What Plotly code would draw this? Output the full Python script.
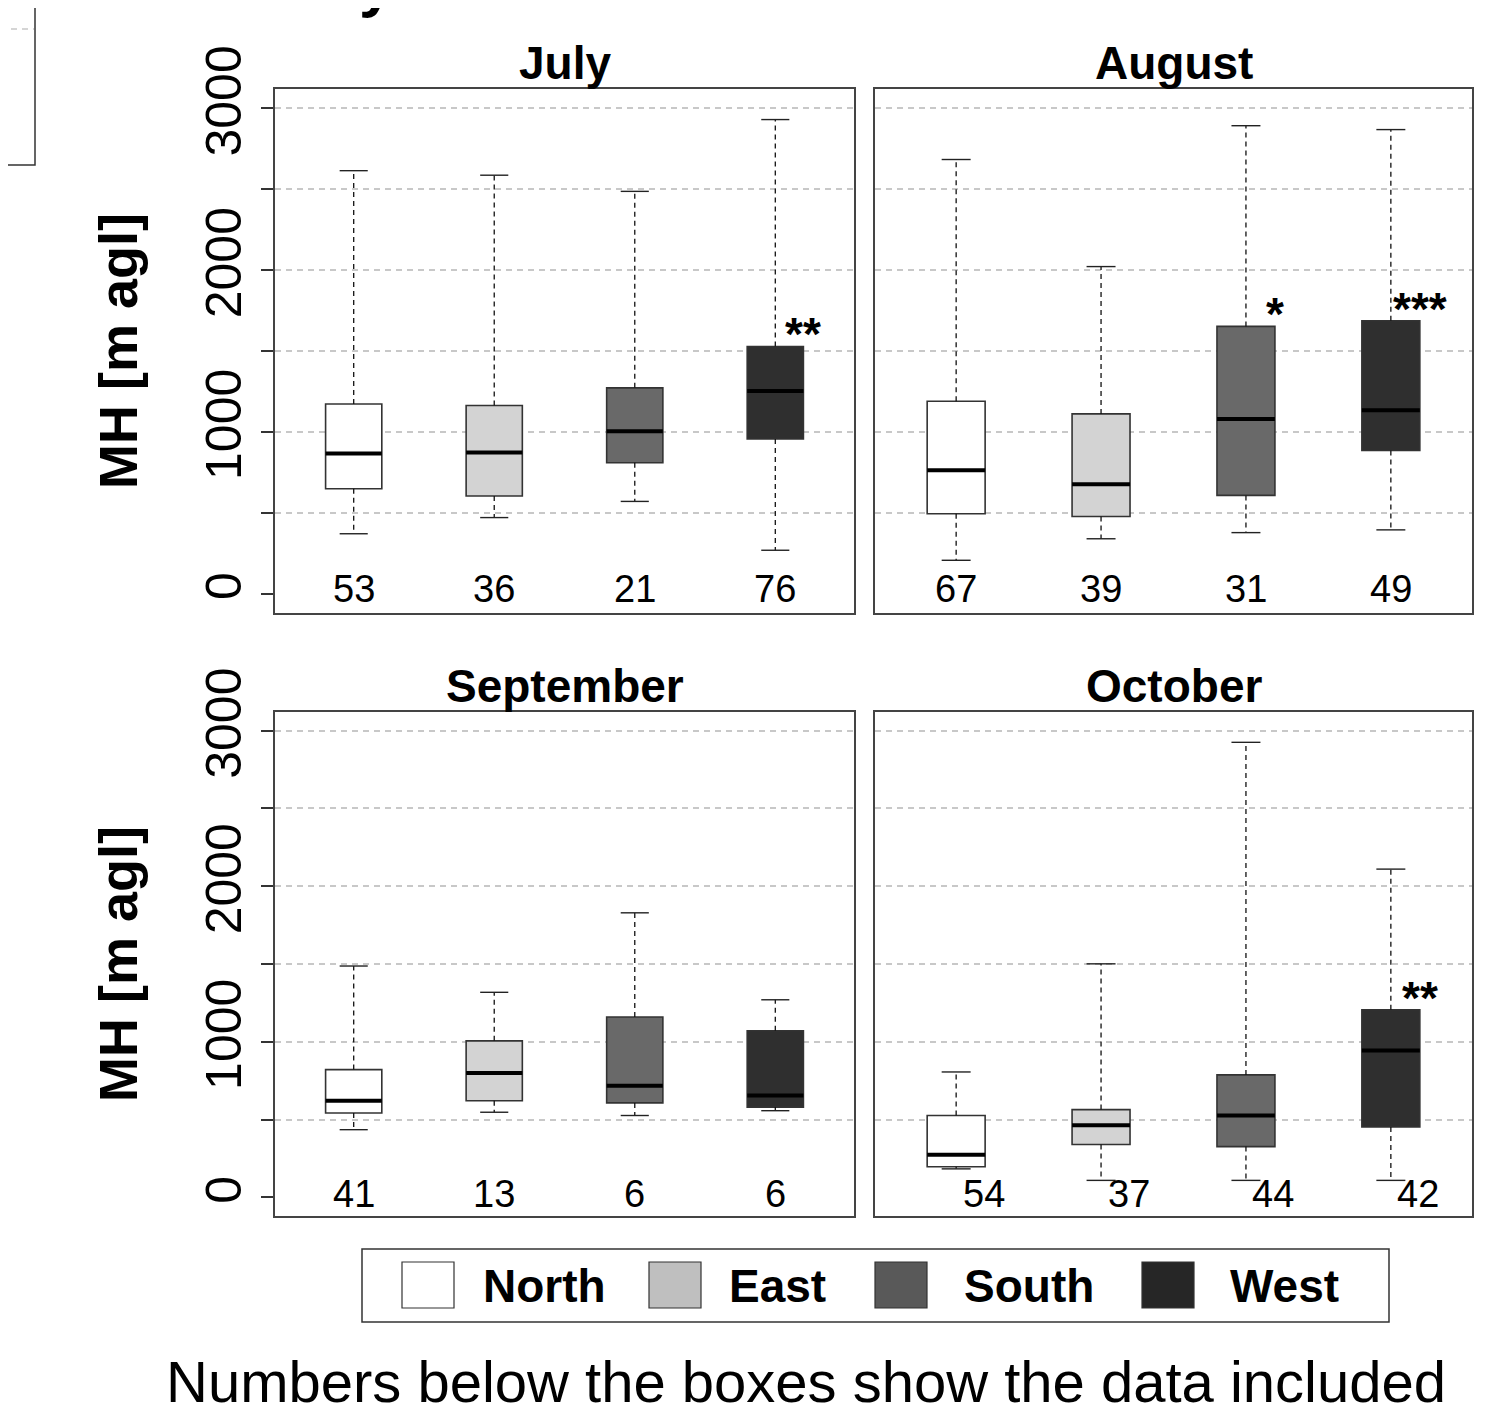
import plotly.graph_objects as go

# ---------------- data ----------------
months = ["July", "August", "September", "October"]
directions = ["North", "East", "South", "West"]
positions = [1, 2, 3, 4]

upper_whisker = [[2615, 2587, 2487, 2931],
                 [2684, 2022, 2893, 2869],
                 [1487, 1318, 1829, 1270],
                 [806, 1501, 2925, 2110]]
q3 = [[1172, 1163, 1272, 1528],
      [1189, 1111, 1652, 1687],
      [821, 1006, 1159, 1071],
      [526, 564, 787, 1206]]
median = [[866, 873, 1004, 1253],
          [762, 676, 1080, 1134],
          [621, 799, 718, 654],
          [274, 464, 526, 944]]
q1 = [[648, 603, 809, 956],
      [494, 477, 607, 885],
      [542, 621, 607, 580],
      [197, 340, 326, 452]]
lower_whisker = [[370, 470, 570, 268],
                 [206, 339, 377, 394],
                 [435, 547, 526, 557],
                 [183, 109, 109, 109]]
counts = [[53, 36, 21, 76],
          [67, 39, 31, 49],
          [41, 13, 6, 6],
          [54, 37, 44, 42]]
signif = [["", "", "", "**"],
          ["", "", "*", "***"],
          ["", "", "", ""],
          ["", "", "", "**"]]

y_tick_values = [0, 500, 1000, 1500, 2000, 2500, 3000]
y_tick_labels = ["0", "", "1000", "", "2000", "", "3000"]
grid_values = [500, 1000, 1500, 2000, 2500, 3000]

# ---------------- styling ----------------
W, H = 1494, 1409
OFF = 8  # page body margin in the browser
box_fill = ["#ffffff", "#d3d3d3", "#696969", "#2f2f2f"]
legend_fill = ["#ffffff", "#bfbfbf", "#595959", "#262626"]
EDGE = "#333333"
GRID = "#c8c8c8"
FONT = "Liberation Sans, Arial, Helvetica, sans-serif"
VFONT = "Liberation Sans Narrow, Arial Narrow, Liberation Sans, Arial, sans-serif"
BOX_W = 0.4
CAP_HALF = 0.1
label_shift = [0, 0, 0, 0.19]     # October labels sit right of the boxes
label_y = [30, 30, 20, 20]


def px(x):
    return (x - OFF) / W


def py(y):
    return 1 - (y - OFF) / H


x_dom = [[px(275), px(854)], [px(875), px(1472)]]
y_dom = [[py(613), py(89)], [py(1216), py(712)]]
axis_ids = ["", "2", "3", "4"]

fig = go.Figure()

for m in range(4):
    xa = "x" + axis_ids[m]
    ya = "y" + axis_ids[m]
    for d in range(4):
        fig.add_trace(go.Box(
            x=[positions[d]], q1=[q1[m][d]], median=[median[m][d]], q3=[q3[m][d]],
            lowerfence=[q1[m][d]], upperfence=[q3[m][d]],
            width=BOX_W, fillcolor=box_fill[d], line=dict(color=EDGE, width=1.6),
            boxpoints=False, showlegend=False, hoverinfo="skip",
            name=directions[d], xaxis=xa, yaxis=ya))
    # dashed whiskers
    wx, wy = [], []
    for d in range(4):
        p = positions[d]
        wx += [p, p, None, p, p, None]
        wy += [q3[m][d], upper_whisker[m][d], None, q1[m][d], lower_whisker[m][d], None]
    fig.add_trace(go.Scatter(x=wx, y=wy, mode="lines", xaxis=xa, yaxis=ya,
                             line=dict(color="#111111", width=1.3, dash="5px,4px"),
                             showlegend=False, hoverinfo="skip"))
    # caps
    cx, cy = [], []
    for d in range(4):
        p = positions[d]
        for v in (upper_whisker[m][d], lower_whisker[m][d]):
            cx += [p - CAP_HALF, p + CAP_HALF, None]
            cy += [v, v, None]
    fig.add_trace(go.Scatter(x=cx, y=cy, mode="lines", xaxis=xa, yaxis=ya,
                             line=dict(color="#222222", width=1.4),
                             showlegend=False, hoverinfo="skip"))
    # thick medians
    mx, my = [], []
    for d in range(4):
        p = positions[d]
        mx += [p - BOX_W / 2, p + BOX_W / 2, None]
        my += [median[m][d], median[m][d], None]
    fig.add_trace(go.Scatter(x=mx, y=my, mode="lines", xaxis=xa, yaxis=ya,
                             line=dict(color="#000000", width=4),
                             showlegend=False, hoverinfo="skip"))

annotations = []
shapes = []
for m in range(4):
    col, row = m % 2, m // 2
    xa = "x" + axis_ids[m]
    ya = "y" + axis_ids[m]
    fig.layout["xaxis" + axis_ids[m]] = dict(
        domain=x_dom[col], range=[0.44, 4.56], anchor=ya, automargin=False,
        showticklabels=False, ticks="", showgrid=False, zeroline=False,
        showline=True, mirror=True, linecolor="#444444", linewidth=1.5)
    fig.layout["yaxis" + axis_ids[m]] = dict(
        domain=y_dom[row], range=[-120, 3120], anchor=xa, automargin=False,
        tickmode="array", tickvals=y_tick_values, ticktext=y_tick_labels,
        ticks="outside" if col == 0 else "", ticklen=12, tickwidth=1.5, tickcolor="#333333",
        showticklabels=(col == 0), tickangle=-90,
        tickfont=dict(family=VFONT, size=50, color="#000000"),
        showgrid=False, zeroline=False,
        minor=dict(tickmode="array", tickvals=grid_values, showgrid=True, ticks="",
                   gridcolor=GRID, griddash="6px,5px", gridwidth=1.5),
        showline=True, mirror=True, linecolor="#444444", linewidth=1.5)
    # panel title
    annotations.append(dict(
        text="<b>%s</b>" % months[m], xref="paper", yref="paper",
        x=(x_dom[col][0] + x_dom[col][1]) / 2, y=py(63 if row == 0 else 686),
        xanchor="center", yanchor="middle", showarrow=False,
        font=dict(family=FONT, size=46, color="#000000")))
    # counts and significance stars
    for d in range(4):
        annotations.append(dict(
            text=str(counts[m][d]), xref=xa, yref=ya,
            x=positions[d] + label_shift[m], y=label_y[m],
            xanchor="center", yanchor="middle", showarrow=False,
            font=dict(family=FONT, size=38, color="#000000")))
        if signif[m][d]:
            annotations.append(dict(
                text="<b>%s</b>" % signif[m][d], xref=xa, yref=ya,
                x=positions[d] + 0.2, y=q3[m][d], xanchor="center", yanchor="bottom",
                yshift=-16, showarrow=False,
                font=dict(family=FONT, size=46, color="#000000")))

# y-axis titles
for row in range(2):
    annotations.append(dict(
        text="<b>MH [m agl]</b>", xref="paper", yref="paper",
        x=px(118), y=(y_dom[row][0] + y_dom[row][1]) / 2,
        xanchor="center", yanchor="middle", textangle=-90, showarrow=False,
        font=dict(family=VFONT, size=54, color="#000000")))

# legend (drawn manually: big square swatches)
shapes.append(dict(type="rect", xref="paper", yref="paper",
                   x0=px(362), x1=px(1389), y0=py(1322), y1=py(1249),
                   line=dict(color="#333333", width=1.5), fillcolor="#ffffff"))
sw_x = [402, 649, 875, 1142]
tx_x = [481, 727, 962, 1228]
for d in range(4):
    shapes.append(dict(type="rect", xref="paper", yref="paper",
                       x0=px(sw_x[d]), x1=px(sw_x[d] + 52), y0=py(1308), y1=py(1262),
                       line=dict(color="#333333", width=1.2), fillcolor=legend_fill[d]))
    annotations.append(dict(
        text="<b>%s</b>" % directions[d], xref="paper", yref="paper",
        x=px(tx_x[d]), y=py(1286), xanchor="left", yanchor="middle", showarrow=False,
        font=dict(family=FONT, size=46, color="#000000")))

# footnote
annotations.append(dict(
    text="Numbers below the boxes show the data included", xref="paper", yref="paper",
    x=px(806), y=py(1381), xanchor="center", yanchor="middle", showarrow=False,
    font=dict(family=FONT, size=58, color="#000000")))

# cropped neighbour panel at the top-left corner and cropped title glyph
shapes.append(dict(type="rect", xref="paper", yref="paper",
                   x0=px(-10), x1=px(35), y0=py(165), y1=py(-10),
                   line=dict(color="#333333", width=1.5)))
shapes.append(dict(type="line", xref="paper", yref="paper",
                   x0=px(0), x1=px(34), y0=py(29), y1=py(29),
                   line=dict(color=GRID, width=1.5, dash="6px,5px")))
annotations.append(dict(
    text="<b>y</b>", xref="paper", yref="paper", x=px(376), y=py(20),
    xanchor="center", yanchor="bottom", showarrow=False,
    font=dict(family=FONT, size=62, color="#000000")))

fig.update_layout(
    width=W, height=H, margin=dict(l=0, r=0, t=0, b=0, autoexpand=False),
    paper_bgcolor="#ffffff", plot_bgcolor="#ffffff",
    boxmode="overlay", showlegend=False,
    annotations=annotations, shapes=shapes,
    font=dict(family=FONT, color="#000000"))

fig.write_html("out.html")
